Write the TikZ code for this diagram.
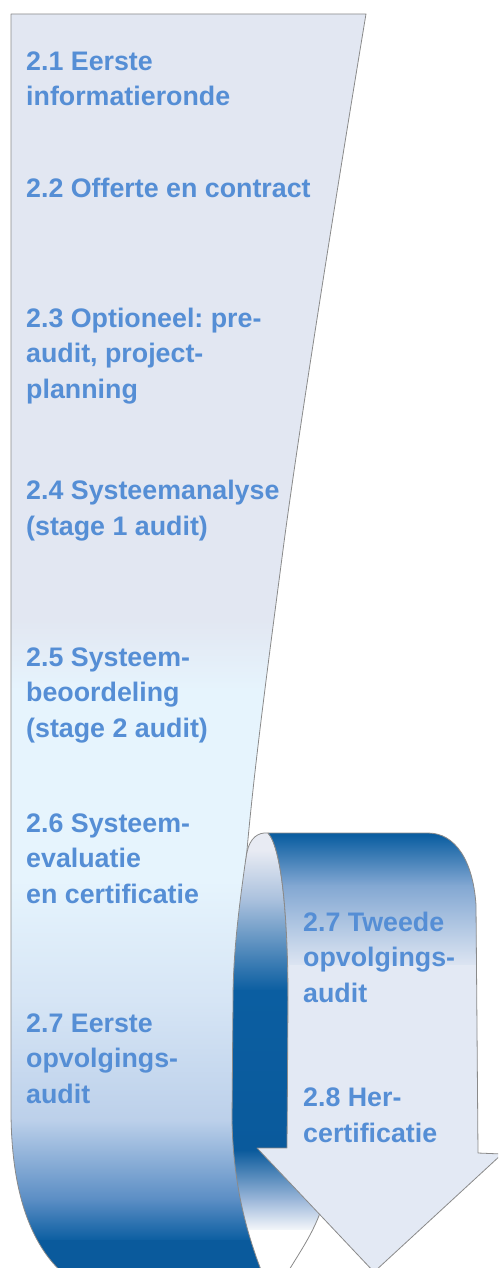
\documentclass[tikz,border=0pt]{standalone}
\usepackage{fontspec}
\setmainfont{Liberation Sans}
\definecolor{txtblue}{RGB}{85,142,213}
\definecolor{edgegray}{RGB}{138,138,138}
\definecolor{stripA}{HTML}{E2E7F2}
\definecolor{stripB}{HTML}{E6F4FD}
\definecolor{stripC}{HTML}{D6E5F5}
\definecolor{stripD}{HTML}{BCD0EA}
\definecolor{stripE}{HTML}{5A8DC4}
\definecolor{deepblue}{HTML}{0B5EA1}
\definecolor{deepblueB}{HTML}{0A5A9C}
\definecolor{bandA}{HTML}{E8EBF3}
\definecolor{bandB}{HTML}{A9C0DD}
\definecolor{bandC}{HTML}{9DB8DA}
\definecolor{bandD}{HTML}{F6F8FB}
\definecolor{shaftB}{HTML}{82A7D2}
\definecolor{shaftC}{HTML}{DDE5F2}
\definecolor{shaftD}{HTML}{E3E9F4}
\newcommand\myvshade[4]{\shade[top color=#3,bottom color=#4] (-5,#1) rectangle (505,{#2+0.6});}
\newcommand\myvfill[3]{\fill[#3] (-5,#1) rectangle (505,{#2+0.6});}
\newcommand\pathBand{(247,852) .. controls (250,838) and (258,832) .. (268,833) .. controls (282,848) and (288,920) .. (288,1000) -- (289,1148) .. controls (316,1168) and (326,1195) .. (320,1213) .. controls (312,1235) and (298,1255) .. (286,1275) -- (228,1275) -- (226,1000) -- (238,900) -- cycle}
\newcommand\pathStrip{(11,14) -- (366,14) .. controls (345,140) and (300,420) .. (283,550) .. controls (270,650) and (255,760) .. (247,850) .. controls (240,900) and (233,950) .. (233,1000) -- (232,1120) .. controls (233,1180) and (245,1230) .. (263,1275) -- (65,1275) .. controls (30,1245) and (11,1190) .. (11,1110) -- cycle}
\newcommand\pathShaft{(268,833) -- (428,833) .. controls (455,833) and (473,860) .. (476,905) -- (478,1153) -- (502,1154) -- (374,1272) -- (257,1148) -- (287,1148) -- (288,1000) .. controls (288,920) and (282,848) .. (268,833) -- cycle}
\tikzset{
  lbl/.style={font={\fontsize{26.8}{35.5}\selectfont\bfseries\frenchspacing}, text=txtblue, inner sep=0pt, align=left, anchor=base west},
  outline/.style={draw=edgegray, line width=0.8pt, line join=round}
}
\begin{document}
\begin{tikzpicture}[x=1pt,y=-1pt]
\useasboundingbox (0,0) rectangle (498,1268);
\begin{scope}
\clip (0,0) rectangle (498,1268);
% back side of the ribbon (inside of the loop)
\begin{scope}
\clip \pathBand;
\myvfill{825}{850}{bandA}
\myvshade{850}{900}{bandA}{bandB}
\myvshade{900}{990}{bandB}{deepblue}
\myvshade{990}{1150}{deepblue}{deepblueB}
\myvshade{1150}{1200}{deepblueB}{bandC}
\myvshade{1200}{1230}{bandC}{bandD}
\myvfill{1230}{1280}{white}
\end{scope}
\draw[outline] \pathBand;
% front strip
\begin{scope}
\clip \pathStrip;
\myvfill{10}{620}{stripA}
\myvshade{620}{690}{stripA}{stripB}
\myvfill{690}{880}{stripB}
\myvshade{880}{1000}{stripB}{stripC}
\myvshade{1000}{1120}{stripC}{stripD}
\myvshade{1120}{1200}{stripD}{stripE}
\myvshade{1200}{1240}{stripE}{deepblue}
\myvfill{1240}{1280}{deepblueB}
\end{scope}
\draw[outline] \pathStrip;
% loop top and arrow
\begin{scope}
\clip \pathShaft;
\myvfill{825}{835}{deepblue}
\myvshade{835}{885}{deepblue}{shaftB}
\myvshade{885}{965}{shaftB}{shaftC}
\myvfill{965}{1280}{shaftD}
\end{scope}
\draw[outline] \pathShaft;
\end{scope}
% labels (anchored at the baseline of their last line)
\node[lbl] (t21) at (26,106) {2.1 Eerste\\informatieronde};
\node[lbl] (t22) at (26,197) {2.2 Offerte en contract};
\node[lbl] (t23) at (26,398) {2.3 Optioneel: pre-\\audit, project-\\planning};
\node[lbl] (t24) at (26,535) {2.4 Systeemanalyse\\(stage 1 audit)};
\node[lbl] (t25) at (26,737) {2.5 Systeem-\\beoordeling\\(stage 2 audit)};
\node[lbl] (t26) at (26,903) {2.6 Systeem-\\evaluatie\\en certificatie};
\node[lbl] (t27a) at (26,1103) {2.7 Eerste\\opvolgings-\\audit};
\node[lbl] (t27b) at (303,1002) {2.7 Tweede\\opvolgings-\\audit};
\node[lbl] (t28) at (303,1142) {2.8 Her-\\certificatie};
\end{tikzpicture}
\end{document}
